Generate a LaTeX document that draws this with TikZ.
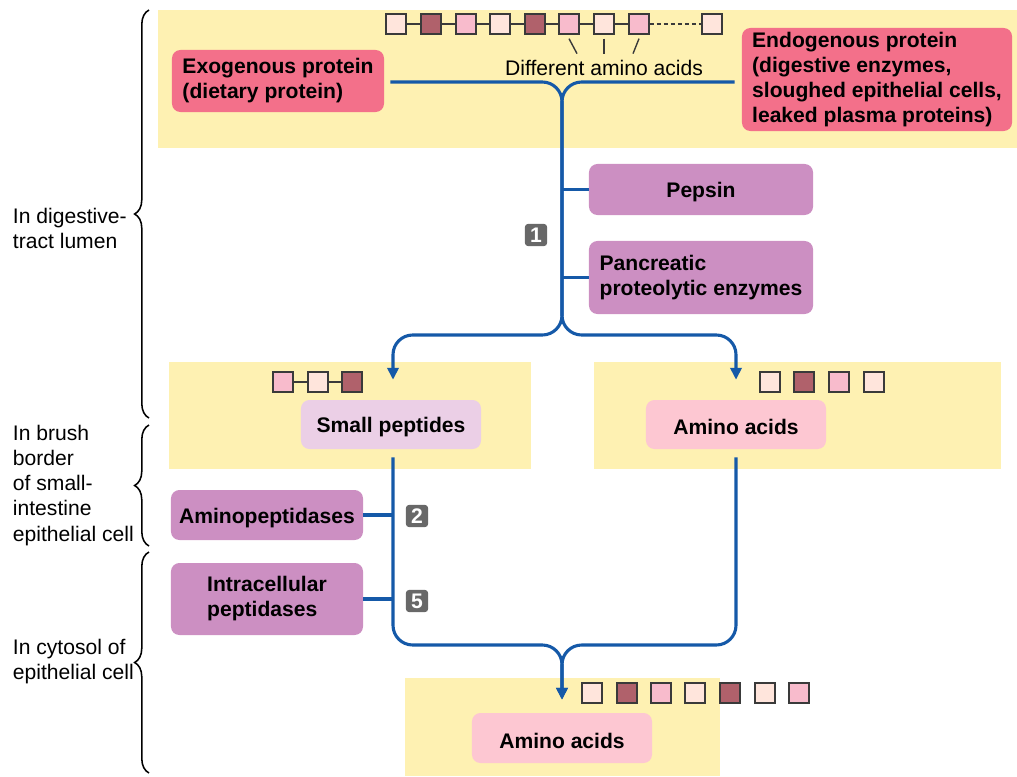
\documentclass[tikz,border=0pt]{standalone}
\usepackage{fontspec}
\setmainfont{Liberation Sans}
\usepackage{xcolor}
\usetikzlibrary{arrows.meta,positioning,decorations.pathreplacing,calc}

\definecolor{bandyellow}{HTML}{FEF1B2}
\definecolor{protred}{HTML}{F3708A}
\definecolor{enzpurple}{HTML}{CC8FC2}
\definecolor{peplilac}{HTML}{EBCFE6}
\definecolor{aapink}{HTML}{FDC7D2}
\definecolor{flowblue}{HTML}{1559A8}
\definecolor{badgegray}{HTML}{686868}
\definecolor{sqlight}{HTML}{FFE5DC}
\definecolor{sqdark}{HTML}{B0616B}
\definecolor{sqpink}{HTML}{F8BBCC}
\definecolor{sqedge}{HTML}{3A3A3A}

\begin{document}
\begin{tikzpicture}[x=0.025cm,y=-0.025cm,
  every node/.style={font=\fontsize{15}{17.8}\selectfont},
  zone/.style={fill=bandyellow},
  box/.style={rounded corners=6pt,align=left,inner sep=0pt,
    font=\fontsize{15}{17.8}\selectfont\bfseries,
    execute at begin node=\rule{0pt}{15pt}},
  flow/.style={draw=flowblue,line width=2.2pt,rounded corners=14pt},
  tip/.style={-{Triangle[length=8.5pt,width=8pt]}},
  badge/.style={fill=badgegray,text=white,rounded corners=2.5pt,
    minimum size=0.56cm,inner sep=0pt,font=\fontsize{15}{17}\selectfont\bfseries},
  aa/.style={draw=sqedge,line width=0.9pt,minimum size=0.5cm,inner sep=0pt},
  link/.style={draw=sqedge,line width=1pt},
  brc/.style={decorate,decoration={brace,amplitude=0.36cm},line width=1.1pt}]
  \useasboundingbox (0,0) rectangle (1017,776);

  % yellow zones
  \fill[zone] (158,10) rectangle (1017,148);
  \fill[zone] (169,362) rectangle (531,469);
  \fill[zone] (594,362) rectangle (1001,469);
  \fill[zone] (405,678) rectangle (720,776);

  % protein chain
  \foreach \n/\x/\c in {1/396/sqlight,2/431/sqdark,3/466/sqpink,4/500/sqlight,
      5/535/sqdark,6/569/sqpink,7/604/sqlight,8/639/sqpink,9/712/sqlight}
    \node[aa,fill=\c] (t\n) at (\x,24) {};
  \foreach \a/\b in {1/2,2/3,3/4,4/5,5/6,6/7,7/8}
    \draw[link] (t\a) -- (t\b);
  \draw[link,dash pattern=on 3pt off 2pt] (t8) -- (t9);
  \node (lbl) at (604,68) {Different amino acids};
  \draw[link] ($(t6.south)+(0,4)$) -- ($(t6.south)+(8,19)$);
  \draw[link] ($(t7.south)+(0,4)$) -- ($(t7.south)+(0,19)$);
  \draw[link] ($(t8.south)+(0,4)$) -- ($(t8.south)+(-6,19)$);

  % boxes
  \node[box,fill=protred,minimum width=5.3cm,minimum height=1.55cm] (exo) at (278,81)
    {Exogenous protein\\(dietary protein)};
  \node[box,fill=protred,minimum width=6.75cm,minimum height=2.575cm] (endo) at (877,79.5)
    {Endogenous protein\\(digestive enzymes,\\sloughed epithelial cells,\\leaked plasma proteins)};
  \node[box,fill=enzpurple,minimum width=5.6cm,minimum height=1.275cm] (pepsin) at (701,189.5)
    {Pepsin};
  \node[box,fill=enzpurple,minimum width=5.6cm,minimum height=1.825cm] (panc) at (701,277.5)
    {Pancreatic\\proteolytic enzymes};
  \node[box,fill=peplilac,minimum width=4.5cm,minimum height=1.225cm] (sp) at (391,424.5)
    {Small peptides};
  \node[box,fill=aapink,minimum width=4.5cm,minimum height=1.225cm] (aar) at (736,424.5)
    {Amino acids};
  \node[box,fill=enzpurple,minimum width=4.8cm,minimum height=1.25cm] (amp) at (267,515)
    {Aminopeptidases};
  \node[box,fill=enzpurple,minimum width=4.8cm,minimum height=1.8cm] (icp) at (267,599)
    {Intracellular\\peptidases};
  \node[box,fill=aapink,minimum width=4.5cm,minimum height=1.25cm] (aab) at (562,738)
    {Amino acids};

  % small chains
  \foreach \n/\x/\c in {1/283/sqpink,2/318/sqlight,3/352/sqdark}
    \node[aa,fill=\c] (p\n) at (\x,382) {};
  \draw[link] (p1) -- (p2);
  \draw[link] (p2) -- (p3);
  \foreach \n/\x/\c in {1/770/sqlight,2/804/sqdark,3/839/sqpink,4/874/sqlight}
    \node[aa,fill=\c] (r\n) at (\x,382) {};
  \foreach \n/\x/\c in {1/592/sqlight,2/627/sqdark,3/661/sqpink,4/695/sqlight,
      5/730/sqdark,6/765/sqlight,7/799/sqpink}
    \node[aa,fill=\c] (b\n) at (\x,693) {};

  % flow lines
  \coordinate (fork) at (562,335);
  \coordinate (merge) at (562,645);
  \draw[flow,tip] ($(exo.east)+(6,1)$) -| (fork) -| ($(sp.north)+(2,-20)$);
  \draw[flow,tip] ($(endo.west)+(-7,2.5)$) -| (fork) -| ($(aar.north)+(0,-20)$);
  \draw[flow] (pepsin.west) -- (pepsin.west -| fork);
  \draw[flow] (panc.west) -- (panc.west -| fork);
  \draw[flow,tip] ($(sp.south)+(2,8)$) |- (merge) -- ($(aab.north)+(0,-13)$);
  \draw[flow,tip] ($(aar.south)+(0,8)$) |- (merge) -- ($(aab.north)+(0,-13)$);
  \draw[flow] (amp.east) -- ($(amp.east -| sp.south)+(2,0)$);
  \draw[flow] (icp.east) -- ($(icp.east -| sp.south)+(2,0)$);

  % step badges
  \node[badge] (b1n) at (536,235) {1};
  \node[badge] (b2n) at (417,516) {2};
  \node[badge] (b5n) at (417,601) {5};

  % regions
  \draw[brc] (149,418) -- (149,10);
  \draw[brc] (149,546) -- (149,425);
  \draw[brc] (149,773) -- (149,552);
  \node[anchor=west,align=left] (lumen) at (8,228) {In digestive-\\tract lumen};
  \node[anchor=west,align=left] (brush) at (8,485.5)
    {In brush\\border\\of small-\\intestine\\epithelial cell};
  \node[anchor=west,align=left] (cyto) at (8,662) {In cytosol of\\epithelial cell};
\end{tikzpicture}
\end{document}
